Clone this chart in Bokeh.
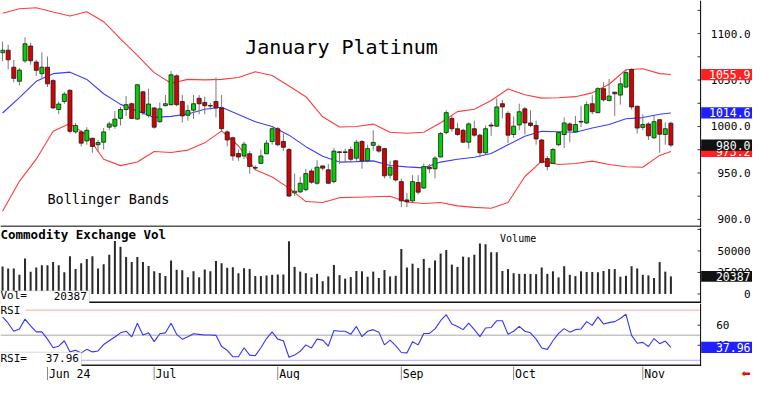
from bokeh.plotting import figure
from bokeh.layouts import column
from bokeh.models import Range1d, Span, Label, BoxAnnotation, ColumnDataSource
from bokeh.core.properties import value
from bokeh.embed import file_html
from bokeh.resources import INLINE

# ---------------- data ----------------
opens = [1079.4, 1082.1, 1063.8, 1048.7, 1070.7, 1086.6, 1069.4, 1056.9, 1063.8, 1049.4,
         1018.3, 1026.9, 1039.0, 994.2, 994.2, 984.5, 987.3, 980.4, 983.1, 999.3,
         1000.4, 1008.7, 1018.3, 1024.5, 1008.0, 1037.3, 1012.1, 1020.0, 1005.2, 1022.4,
         1023.5, 1054.5, 1026.9, 1012.1, 1017.6, 1030.4, 1025.9, 1022.0, 1026.9, 1020.0,
         994.2, 987.9, 971.0, 968.3, 970.7, 955.2, 960.3, 970.7, 983.8, 997.6,
         983.8, 975.2, 928.6, 929.6, 932.0, 952.1, 938.9, 957.6, 953.4, 940.7,
         972.7, 972.7, 975.2, 965.9, 983.8, 963.1, 979.7, 978.6, 976.2, 947.6,
         963.1, 940.7, 921.0, 920.0, 939.7, 933.8, 956.2, 954.5, 967.2, 993.5,
         1008.7, 997.6, 995.9, 983.1, 997.6, 990.7, 971.7, 1001.5, 1000.4, 1024.5,
         1014.1, 991.4, 1001.7, 1019.0, 1003.8, 1001.1, 985.5, 965.5, 960.3, 980.4,
         991.4, 1002.8, 994.2, 1005.5, 1003.8, 1024.5, 1014.9, 1040.7, 1028.0, 1036.9,
         1033.8, 1042.4, 1061.4, 1021.8, 999.0, 1002.8, 987.9, 1007.3, 991.4, 1003.5]
highs = [1091.4, 1088.0, 1071.8, 1063.2, 1095.9, 1090.1, 1071.8, 1079.7, 1075.2, 1051.1,
         1026.9, 1037.3, 1039.7, 1003.8, 995.9, 999.3, 987.9, 985.5, 998.3, 1005.2,
         1016.6, 1021.1, 1032.8, 1025.9, 1045.9, 1038.3, 1040.7, 1021.1, 1025.9, 1033.8,
         1059.7, 1056.2, 1033.8, 1023.5, 1033.8, 1033.8, 1032.1, 1025.2, 1052.8, 1033.8,
         995.9, 989.0, 975.2, 983.8, 973.5, 957.9, 975.2, 985.5, 999.3, 999.3,
         992.4, 976.9, 949.3, 945.8, 954.5, 954.5, 963.8, 957.9, 959.7, 976.9,
         973.5, 976.2, 978.6, 985.5, 985.5, 980.4, 995.9, 980.4, 976.9, 963.1,
         963.8, 944.1, 928.6, 947.6, 947.6, 960.3, 959.7, 968.3, 994.2, 1017.6,
         1011.4, 1003.8, 997.6, 1004.5, 1006.2, 992.4, 1001.1, 1004.5, 1030.4, 1028.7,
         1016.6, 1010.7, 1024.5, 1021.1, 1017.6, 1006.2, 986.6, 968.3, 976.9, 994.8,
         1009.7, 1004.5, 1011.4, 1022.4, 1026.9, 1033.8, 1042.4, 1047.6, 1051.1, 1037.3,
         1052.8, 1061.4, 1062.5, 1022.4, 1013.1, 1004.5, 1011.4, 1008.0, 1004.5, 1005.2]
lows = [1070.1, 1061.4, 1047.6, 1044.2, 1068.3, 1066.6, 1054.5, 1051.1, 1042.5, 1019.0,
        1013.1, 1024.5, 992.4, 992.4, 978.6, 980.4, 971.7, 972.8, 975.2, 995.9,
        997.6, 1001.1, 1011.4, 1008.0, 1007.3, 1012.1, 1009.7, 997.6, 1003.8, 1021.7,
        1022.4, 1021.7, 1004.5, 1006.2, 1008.0, 1013.1, 1013.1, 1018.3, 1009.7, 994.2,
        978.6, 963.1, 963.1, 964.8, 949.3, 952.8, 959.7, 970.0, 980.4, 978.6,
        973.5, 924.1, 925.2, 928.6, 930.3, 938.3, 937.2, 952.8, 938.3, 938.9,
        959.7, 961.4, 961.4, 963.1, 954.5, 961.4, 974.1, 971.7, 944.1, 944.1,
        940.7, 913.1, 913.1, 918.3, 926.9, 932.8, 950.0, 944.1, 966.6, 991.4,
        994.2, 990.0, 982.1, 976.2, 989.0, 966.6, 970.0, 990.0, 999.3, 1008.7,
        982.1, 987.9, 995.9, 991.4, 999.3, 980.4, 960.3, 952.8, 959.7, 978.6,
        976.9, 983.1, 993.5, 999.3, 1002.8, 1013.1, 1014.2, 1026.9, 1026.9, 1011.4,
        1023.5, 1041.8, 1018.3, 992.4, 995.9, 985.5, 986.6, 971.7, 980.4, 977.6]
closes = [1082.1, 1071.8, 1051.8, 1060.7, 1089.0, 1070.7, 1060.4, 1063.8, 1045.9, 1020.0,
          1024.2, 1034.9, 994.8, 1001.1, 982.1, 995.9, 978.6, 982.8, 994.2, 1002.8,
          1008.0, 1018.3, 1023.5, 1008.7, 1044.9, 1014.9, 1024.2, 999.3, 1019.0, 1024.5,
          1055.6, 1023.5, 1011.4, 1017.3, 1024.5, 1024.5, 1022.4, 1022.6, 1020.0, 997.6,
          985.5, 968.3, 967.2, 981.0, 956.9, 956.0, 968.3, 982.1, 997.6, 980.4,
          977.6, 925.2, 930.3, 938.9, 949.3, 940.0, 956.2, 955.2, 938.9, 973.5,
          972.1, 972.0, 964.8, 983.1, 963.1, 976.2, 982.8, 973.5, 946.9, 956.2,
          942.4, 920.0, 919.0, 940.7, 929.3, 956.9, 954.5, 965.9, 992.4, 1014.9,
          997.6, 991.4, 983.1, 1002.8, 990.7, 971.7, 997.6, 1000.5, 1021.1, 1021.1,
          990.7, 1000.4, 1015.9, 1003.8, 1001.1, 986.6, 961.4, 956.9, 975.2, 993.5,
          1003.8, 995.9, 1002.1, 1004.8, 1023.5, 1015.9, 1040.7, 1028.7, 1032.8, 1035.2,
          1045.9, 1058.0, 1021.1, 998.3, 1002.1, 990.0, 1005.2, 991.7, 997.6, 980.0]
volumes = [31850, 29630, 29630, 22220, 41110, 25930, 30740, 33330, 33330, 37040,
           33330, 25190, 43700, 28890, 35560, 40740, 43700, 29630, 34450, 45560,
           61480, 54810, 42960, 37040, 42960, 37040, 32590, 26300, 24450, 20750,
           38890, 28150, 27410, 19260, 26300, 19260, 28520, 26300, 38150, 35560,
           30370, 31110, 24080, 30000, 28890, 20750, 20750, 21490, 22230, 22600,
           22600, 61110, 31480, 25930, 24080, 19260, 23340, 14820, 20370, 33700,
           21860, 17780, 19630, 26670, 26300, 20000, 25930, 18520, 27780, 20370,
           21110, 52220, 30740, 35190, 30000, 40740, 30370, 38890, 47040, 51110,
           34070, 31480, 43330, 42590, 45560, 58520, 57770, 48520, 48520, 26670,
           28890, 24080, 23340, 23340, 23340, 22970, 30740, 23340, 26300, 19260,
           32220, 22220, 20750, 26300, 25560, 25560, 25190, 26670, 28890, 28890,
           20000, 21110, 32220, 29630, 22220, 21490, 18520, 37040, 25930, 20387]
rsi = [68.3, 62.0, 54.0, 56.3, 66.1, 59.4, 53.4, 53.4, 46.1, 37.5,
       39.1, 44.5, 33.4, 35.0, 32.4, 35.9, 33.4, 34.3, 40.7, 44.5,
       48.3, 52.4, 54.0, 48.3, 62.0, 50.2, 52.4, 43.6, 51.5, 52.4,
       62.0, 50.9, 46.1, 48.6, 51.5, 50.9, 50.2, 50.2, 49.9, 38.8,
       35.0, 28.6, 28.6, 37.5, 30.2, 29.6, 37.5, 46.7, 53.4, 46.1,
       44.5, 28.0, 30.2, 34.0, 40.4, 37.2, 46.1, 45.1, 39.1, 54.7,
       54.0, 54.0, 50.9, 58.8, 48.6, 54.0, 55.6, 53.1, 40.4, 45.1,
       39.7, 32.8, 32.4, 43.6, 40.4, 51.8, 51.8, 56.3, 64.5, 70.5,
       61.3, 58.8, 55.6, 62.0, 55.6, 48.6, 57.2, 57.8, 64.5, 64.5,
       50.9, 54.0, 58.8, 54.0, 52.4, 46.1, 37.2, 35.9, 44.5, 51.8,
       56.6, 53.1, 55.6, 56.3, 63.6, 59.8, 68.3, 61.3, 62.6, 63.6,
       66.7, 70.9, 49.9, 42.0, 42.9, 38.8, 46.7, 41.6, 44.2, 37.96]
bar_idx = list(range(len(closes)))

band_idx = [0, 3, 6, 9, 12, 15, 18, 21, 24, 27, 30, 33, 36, 39, 42, 45, 48, 51, 54, 57,
            60, 63, 66, 69, 72, 75, 78, 81, 84, 87, 90, 93, 96, 99, 102, 105, 108, 111,
            114, 117, 119]
band_upper = [1121.8, 1126.8, 1127.8, 1123.2, 1119.0, 1123.5, 1112.8, 1094.2, 1076.6, 1058.0,
              1046.6, 1050.7, 1050.2, 1050.7, 1052.8, 1059.0, 1054.9, 1043.5, 1032.1, 1010.4,
              999.5, 1000.0, 1002.6, 993.8, 992.7, 993.8, 1004.1, 1016.0, 1018.6, 1027.9,
              1040.4, 1034.1, 1030.5, 1031.0, 1032.1, 1036.2, 1045.5, 1061.1, 1062.1, 1056.9,
              1055.9]
band_mid = [1014.5, 1031.0, 1048.6, 1056.9, 1058.5, 1050.7, 1035.2, 1023.8, 1016.6, 1009.8,
            1010.9, 1013.4, 1018.6, 1020.7, 1012.9, 1005.2, 1000.0, 990.7, 978.3, 967.9,
            961.7, 962.2, 963.0, 958.1, 956.5, 955.5, 961.7, 964.8, 966.9, 971.0,
            980.3, 989.6, 994.8, 994.3, 993.8, 998.4, 1002.1, 1008.3, 1009.6, 1013.1,
            1014.6]
band_lower = [908.9, 941.0, 964.8, 994.8, 1003.1, 990.7, 964.8, 957.9, 961.7, 973.1,
              972.0, 974.6, 982.4, 995.3, 979.3, 953.4, 945.6, 933.7, 919.2, 918.2,
              923.4, 923.9, 924.4, 924.9, 918.7, 917.2, 918.2, 914.6, 913.0, 912.0,
              918.2, 946.2, 962.7, 959.1, 960.1, 962.7, 959.1, 956.7, 956.2, 968.9,
              973.2]

month_idx = [8, 27, 49, 71, 91, 114]
month_labels = ["Jun 24", "Jul", "Aug", "Sep", "Oct", "Nov"]
price_ticks = [900, 950, 1000, 1050, 1100]
price_tick_labels = ["900.0", "950.0", "1000.0", "1050.0", "1100.0"]
price_minor = [875, 925, 975, 1025, 1075, 1125]
vol_ticks = [0, 25000, 50000]
vol_tick_labels = ["0", "25000", "50000"]
vol_minor = [75000]
rsi_ticks = [40, 60]
rsi_tick_labels = ["40", "60"]
rsi_levels = [75, 50, 25]

# ---------------- layout ----------------
W = 752
MONO = "DejaVu Sans Mono"
GREEN = "#00d400"
RED = "#d80000"
X0, X1 = -0.366, 133.53      # full width of the picture, in bar units
XAX = 124.29                  # position of the price scale line
XLAB = 133.18                 # right edge of the scale labels
xr = Range1d(X0, X1)


def mk(h, y0, y1):
    p = figure(width=W, height=h, x_range=xr, y_range=Range1d(y0, y1),
               output_backend="svg", toolbar_location=None,
               min_border_left=0, min_border_right=0, min_border_top=0, min_border_bottom=0,
               x_axis_location=None, y_axis_location=None)
    p.outline_line_color = None
    p.grid.visible = False
    p.border_fill_color = "white"
    return p


def scale(p, ticks, labels, minor, tick_len, align="right", xlab=XLAB):
    allt = ticks + minor
    p.segment(x0=[XAX - tick_len] * len(allt), y0=allt, x1=[XAX] * len(allt), y1=allt,
              line_color="#333333", line_width=1)
    p.text(x=[xlab] * len(ticks), y=ticks, text=labels, text_font=value(MONO),
           text_font_size="11px", text_align=align, text_baseline="middle",
           text_color="black")
    p.add_layout(Span(location=XAX, dimension="height", line_color="black", line_width=1))


def value_box(p, v, txt, color, half):
    # one box after another, so a later box covers an earlier one
    p.quad(left=[XAX + 0.1], right=[X1 + 1], bottom=[v - half], top=[v + half],
           fill_color=color, line_color=None)
    p.text(x=[XLAB], y=[v], text=[txt], text_font=value(MONO),
           text_font_size="11.5px", text_align="right", text_baseline="middle",
           text_color="white")


def separator(p, y, color):
    p.segment(x0=[X0], y0=[y], x1=[XAX], y1=[y], line_color=color, line_width=2)


# ---- price panel ----
pp = mk(227, 891.3, 1135.6)
scale(pp, price_ticks, price_tick_labels, price_minor, 0.55)

body_top = [max(o, c) for o, c in zip(opens, closes)]
body_bot = [min(o, c) for o, c in zip(opens, closes)]
body_col = [GREEN if c >= o else RED for o, c in zip(opens, closes)]
src = ColumnDataSource(dict(x=bar_idx, h=highs, l=lows, t=body_top, b=body_bot, c=body_col))

pp.line(band_idx, band_upper, line_color="#ff3c3c", line_width=1.1)
pp.line(band_idx, band_lower, line_color="#ff3c3c", line_width=1.1)
pp.line(band_idx, band_mid, line_color="#3c3cff", line_width=1.1)
pp.segment(x0="x", y0="l", x1="x", y1="h", source=src, line_color="#7a7a7a", line_width=1)
pp.vbar(x="x", width=0.72, top="t", bottom="b", source=src, fill_color="c",
        line_color="#1a1a1a", line_width=0.8)

pp.add_layout(Label(x=43.2, y=1085.9, text="January Platinum", text_font=MONO,
                    text_font_size="20px", text_baseline="middle", text_color="black"))
pp.add_layout(Label(x=8.0, y=921.8, text="Bollinger Bands", text_font=MONO,
                    text_font_size="13.5px", text_baseline="middle", text_color="black"))
separator(pp, 892.4, "#555555")

value_box(pp, band_upper[-1], "%.1f" % band_upper[-1], "#ff2020", 6.0)
value_box(pp, band_mid[-1], "%.1f" % band_mid[-1], "#2020ff", 6.0)
value_box(pp, band_lower[-1], "%.1f" % band_lower[-1], "#ff2020", 6.0)
value_box(pp, closes[-1], "%.1f" % closes[-1], "#111111", 6.0)

# ---- volume panel ----
pv = mk(76, -11110, 77215)
scale(pv, vol_ticks, vol_tick_labels, vol_minor, 0.55)
pv.vbar(x=bar_idx, width=0.36, top=volumes, bottom=0, fill_color="#2a2a2a", line_color=None)
pv.add_layout(Label(x=X0, y=69440, text="Commodity Exchange Vol", text_font=MONO,
                    text_font_size="12.5px", text_font_style="bold", text_baseline="middle",
                    text_color="black"))
pv.add_layout(Label(x=91.8, y=64440, text="Volume", text_font=MONO, text_font_size="10px",
                    text_align="center", text_baseline="middle", text_color="black"))
pv.add_layout(BoxAnnotation(left=X0 - 1, right=15.45, bottom=-11110, top=3666,
                            fill_color="white", fill_alpha=1.0, line_color="#8a8a8a",
                            line_width=1))
pv.add_layout(Label(x=X0, y=-2200, text="Vol=", text_font=MONO, text_font_size="11px",
                    text_baseline="middle", text_color="black"))
pv.add_layout(Label(x=15.0, y=-2200, text="%d" % volumes[-1], text_font=MONO,
                    text_font_size="11px", text_align="right", text_baseline="middle",
                    text_color="black"))
separator(pv, -9950, "#111111")
value_box(pv, volumes[-1], "%d" % volumes[-1], "#111111", 6300)

# ---- RSI panel ----
pr = mk(63, 18.81, 81.67)
scale(pr, rsi_ticks, rsi_tick_labels, [], 0.55, align="left", xlab=127.07)
for lvl, col, lw in zip(rsi_levels, ["#ffaaaa", "#c4c4c4", "#aaaaff"], [1, 1.5, 1]):
    pr.segment(x0=[X0], y0=[lvl], x1=[XAX], y1=[lvl], line_color=col, line_width=lw)
pr.line(bar_idx, rsi, line_color="#3434ff", line_width=1.1)
pr.add_layout(Label(x=X0, y=75, text="RSI", text_font=MONO, text_font_size="11px",
                    text_baseline="middle", text_color="black", background_fill_color="white",
                    background_fill_alpha=1.0, padding=dict(left=0, right=5, top=0, bottom=0)))
pr.add_layout(BoxAnnotation(left=X0 - 1, right=14.05, bottom=18.0, top=33.0,
                            fill_color="white", fill_alpha=1.0, line_color="#8a8a8a",
                            line_width=1))
pr.add_layout(Label(x=X0, y=27.0, text="RSI=", text_font=MONO, text_font_size="11px",
                    text_baseline="middle", text_color="black"))
pr.add_layout(Label(x=13.6, y=27.0, text="%.2f" % rsi[-1], text_font=MONO,
                    text_font_size="11px", text_align="right", text_baseline="middle",
                    text_color="black"))
separator(pr, 19.8, "#222222")
value_box(pr, rsi[-1], "%.2f" % rsi[-1], "#2020ff", 5.6)

# ---- date strip ----
pd_ = mk(14, 0, 1)
pd_.segment(x0=month_idx, y0=[0] * len(month_idx), x1=month_idx, y1=[1] * len(month_idx),
            line_color="#8a8a8a", line_width=1)
pd_.text(x=[m + 0.25 for m in month_idx], y=[0.45] * len(month_idx), text=month_labels,
         text_font=value(MONO), text_font_size="11.5px", text_baseline="middle",
         text_color="black")
pd_.text(x=[132.4], y=[0.5], text=["\u2b05"], text_font=value("DejaVu Sans"),
         text_font_size="11px", text_align="center", text_baseline="middle",
         text_color="#e01010")

layout = column(pp, pv, pr, pd_, spacing=0)
open("out.html", "w").write(file_html(layout, INLINE))
